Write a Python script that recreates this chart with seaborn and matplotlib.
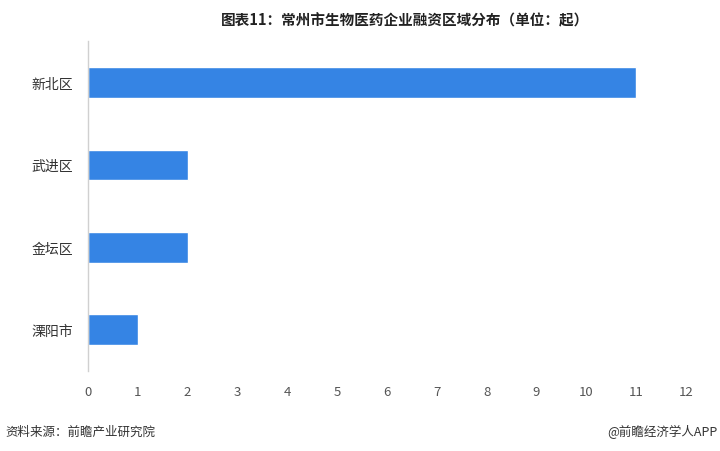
import matplotlib
matplotlib.use("Agg")
import matplotlib.pyplot as plt
import seaborn as sns
import pandas as pd

categories = ["新北区", "武进区", "金坛区", "溧阳市"]
values = [11, 2, 2, 1]
xticks = list(range(0, 13))

sns.set_theme(style="white")
plt.rcParams['font.family'] = ['Noto Sans CJK SC', 'DejaVu Sans']

df = pd.DataFrame({"region": categories, "count": values})

fig = plt.figure(figsize=(7.2, 4.52), dpi=100)
ax = fig.add_axes([0.1222, 0.177, 0.8306, 0.730])
sns.barplot(data=df, y="region", x="count", orient="h", color="#3584E4",
            saturation=1, width=0.37, ax=ax)

ax.set_xlim(0, 12)
ax.set_xticks(xticks)
ax.set_xticklabels([str(t) for t in xticks], fontsize=9.5, color="#555555")
ax.tick_params(axis="y", labelsize=10, colors="#333333", length=0, pad=11)
ax.tick_params(axis="x", length=0, pad=10)
ax.set_xlabel("")
ax.set_ylabel("")
for s in ["top", "right", "bottom"]:
    ax.spines[s].set_visible(False)
ax.spines["left"].set_color("#D0D0D0")
ax.spines["left"].set_linewidth(1)

fig.text(0.562, 0.955, "图表11：常州市生物医药企业融资区域分布（单位：起）",
         ha="center", va="center", fontsize=10.5, fontweight="bold", color="#222222")
fig.text(0.008, 0.044, "资料来源：前瞻产业研究院", ha="left", va="center",
         fontsize=9, color="#333333")
fig.text(0.997, 0.044, "@前瞻经济学人APP", ha="right", va="center",
         fontsize=9, color="#333333")

fig.savefig("out.png", dpi=100)
